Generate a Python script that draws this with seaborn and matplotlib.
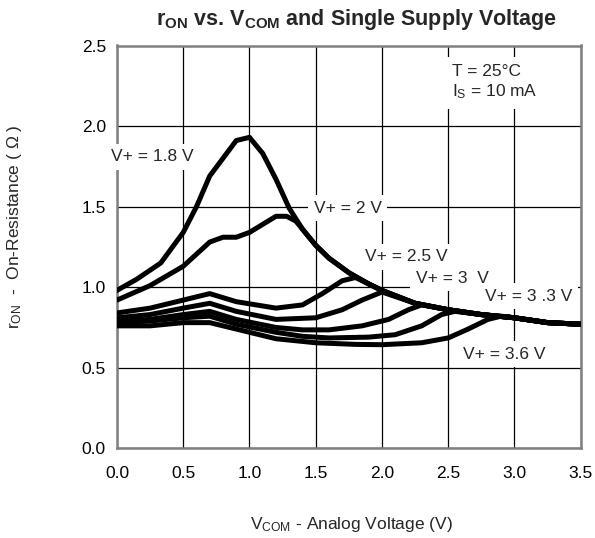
import matplotlib
matplotlib.use("Agg")
import matplotlib.pyplot as plt
import seaborn as sns
import pandas as pd

# ---- data ----
series_names = ["1.8 V", "2 V", "2.5 V", "2.7 V", "3 V", "3.3 V", "3.6 V"]

x_18 = [0, 0.15, 0.33, 0.5, 0.6, 0.7, 0.8, 0.9, 1.0, 1.1, 1.2, 1.3, 1.4, 1.5, 1.6, 1.75, 1.9, 2.0, 2.25, 2.5, 2.75, 3.0, 3.25, 3.5]
y_18 = [0.98, 1.05, 1.15, 1.34, 1.50, 1.69, 1.80, 1.91, 1.93, 1.83, 1.67, 1.49, 1.36, 1.26, 1.18, 1.09, 1.02, 0.98, 0.90, 0.86, 0.83, 0.81, 0.78, 0.77]

x_20 = [0, 0.25, 0.5, 0.7, 0.8, 0.9, 1.0, 1.1, 1.2, 1.28, 1.35, 1.4, 1.5, 1.6, 1.75, 1.9, 2.0, 2.25, 2.5, 2.75, 3.0, 3.25, 3.5]
y_20 = [0.92, 1.01, 1.13, 1.28, 1.31, 1.31, 1.34, 1.39, 1.44, 1.44, 1.41, 1.36, 1.26, 1.18, 1.09, 1.02, 0.98, 0.90, 0.86, 0.83, 0.81, 0.78, 0.77]

x_25 = [0, 0.25, 0.5, 0.7, 0.9, 1.2, 1.4, 1.55, 1.7, 1.8, 1.9, 2.0, 2.25, 2.5, 2.75, 3.0, 3.25, 3.5]
y_25 = [0.84, 0.87, 0.92, 0.96, 0.91, 0.87, 0.89, 0.96, 1.04, 1.06, 1.02, 0.98, 0.90, 0.86, 0.83, 0.81, 0.78, 0.77]

x_27 = [0, 0.25, 0.5, 0.7, 0.9, 1.2, 1.5, 1.7, 1.85, 2.0, 2.25, 2.5, 2.75, 3.0, 3.25, 3.5]
y_27 = [0.81, 0.83, 0.87, 0.90, 0.85, 0.80, 0.81, 0.86, 0.92, 0.97, 0.90, 0.86, 0.83, 0.81, 0.78, 0.77]

x_30 = [0, 0.25, 0.5, 0.7, 0.9, 1.2, 1.4, 1.6, 1.85, 2.05, 2.2, 2.3, 2.5, 2.75, 3.0, 3.25, 3.5]
y_30 = [0.79, 0.80, 0.83, 0.85, 0.80, 0.75, 0.735, 0.735, 0.76, 0.80, 0.86, 0.89, 0.86, 0.83, 0.81, 0.78, 0.77]

x_33 = [0, 0.25, 0.5, 0.7, 0.9, 1.2, 1.4, 1.6, 1.9, 2.1, 2.3, 2.45, 2.55, 2.75, 3.0, 3.25, 3.5]
y_33 = [0.78, 0.79, 0.81, 0.82, 0.77, 0.72, 0.695, 0.685, 0.69, 0.705, 0.76, 0.83, 0.85, 0.83, 0.81, 0.78, 0.77]

x_36 = [0, 0.25, 0.5, 0.7, 0.9, 1.2, 1.5, 1.8, 2.0, 2.3, 2.5, 2.65, 2.8, 2.9, 3.0, 3.25, 3.5]
y_36 = [0.76, 0.76, 0.78, 0.78, 0.74, 0.68, 0.655, 0.645, 0.643, 0.655, 0.685, 0.74, 0.80, 0.82, 0.81, 0.78, 0.77]

curve_x = [x_18, x_20, x_25, x_27, x_30, x_33, x_36]
curve_y = [y_18, y_20, y_25, y_27, y_30, y_33, y_36]

x_ticks = [0.0, 0.5, 1.0, 1.5, 2.0, 2.5, 3.0, 3.5]
y_ticks = [0.0, 0.5, 1.0, 1.5, 2.0, 2.5]

# labels: text, x, y (data coords)
label_texts = ["V+ = 1.8 V", "V+ = 2 V", "V+ = 2.5 V", "V+ = 3  V", "V+ = 3 .3 V", "V+ = 3.6 V"]
label_x = [0.27, 1.74, 2.18, 2.53, 3.11, 2.92]
label_y = [1.81, 1.49, 1.19, 1.056, 0.943, 0.583]

# ---- build table ----
rows = []
for name, xs, ys in zip(series_names, curve_x, curve_y):
    for order, (xv, yv) in enumerate(zip(xs, ys)):
        rows.append({"supply": name, "vcom": xv, "ron": yv, "order": order})
df = pd.DataFrame(rows)

sns.set_theme(style="white")
plt.rcParams["font.family"] = ["Liberation Sans", "DejaVu Sans"]
plt.rcParams["mathtext.fontset"] = "custom"
plt.rcParams["mathtext.rm"] = "Liberation Sans"
plt.rcParams["mathtext.it"] = "Liberation Sans"
plt.rcParams["mathtext.bf"] = "Liberation Sans:bold"

fig = plt.figure(figsize=(5.95, 5.38), dpi=100)
ax = fig.add_axes([117 / 595, 1 - 448.3 / 538, (580.7 - 117) / 595, (448.3 - 45.5) / 538])

sns.lineplot(data=df, x="vcom", y="ron", hue="supply", units="supply", estimator=None,
             sort=False, palette=["black"] * len(series_names), linewidth=3.6,
             legend=False, ax=ax, zorder=3)

ax.set_xlim(0, 3.5)
ax.set_ylim(0, 2.5)
ax.set_xticks(x_ticks)
ax.set_yticks(y_ticks)
ax.set_xticklabels([f"{v:.1f}" for v in x_ticks], fontsize=12.5)
ax.set_yticklabels([f"{v:.1f}" for v in y_ticks], fontsize=12.5)
ax.tick_params(axis="both", length=0, colors="black")
ax.tick_params(axis="x", pad=13)
ax.tick_params(axis="y", pad=8)
ax.grid(True, color="black", linewidth=0.9)
ax.set_axisbelow(True)
for s in ax.spines.values():
    s.set_visible(True)
    s.set_color("#808080")
    s.set_linewidth(1.8)
ax.set_xlabel("")
ax.set_ylabel("")

for t, lx, ly in zip(label_texts, label_x, label_y):
    ax.text(lx, ly, t, ha="center", va="center", fontsize=12.5, zorder=6, clip_on=False,
            bbox=dict(facecolor="white", edgecolor="none", pad=4))

ax.text(2.53, 2.27, "T = 25°C\n" + r"I$_{\mathregular{S}}$ = 10 mA", ha="left", va="center",
        fontsize=12.5, zorder=6, linespacing=1.25,
        bbox=dict(facecolor="white", edgecolor="none", pad=6))

fig.text(357 / 595, 1 - 20 / 538, r"r$_{\mathregular{ON}}$ vs. V$_{\mathregular{COM}}$ and Single Supply Voltage",
         ha="center", va="center", fontsize=15.5, fontweight="bold")
fig.text(351.7 / 595, 1 - 524 / 538, r"V$_{\mathregular{COM}}$ - Analog Voltage (V)",
         ha="center", va="center", fontsize=12.5)
fig.text(15 / 595, 1 - 227 / 538, r"r$_{\mathregular{ON}}$  -  On-Resistance ( Ω )",
         ha="center", va="center", fontsize=12.5, rotation=90)

fig.savefig("out.png", dpi=100, facecolor="white")
